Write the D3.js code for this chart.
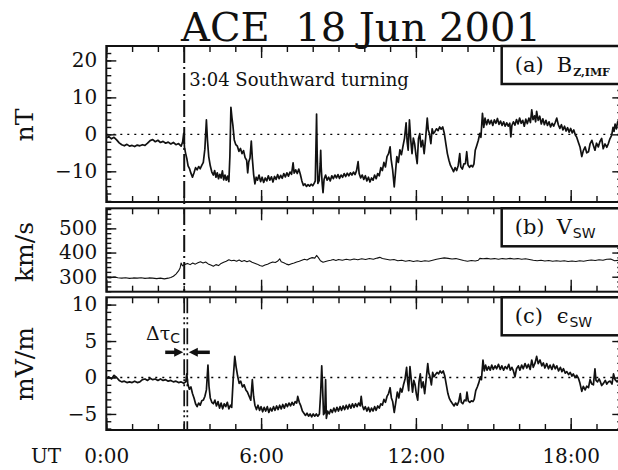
<!DOCTYPE html>
<html>
<head>
<meta charset="utf-8">
<script src="https://cdnjs.cloudflare.com/ajax/libs/d3/7.8.5/d3.min.js"></script>
<style>
body { margin: 0; background: #fff; }
svg { display: block; }
</style>
</head>
<body>
<div id="chart"></div>
<script>
// hours UT on 18 Jun 2001
var hourTicks = [0, 6, 12, 18];
var hourLabels = ["0:00", "6:00", "12:00", "18:00"];
var bzTicks = [-10, 0, 10, 20];
var vTicks = [300, 400, 500];
var epsTicks = [-5, 0, 5, 10];
var turningTime = 3.02;   // dash-dot line, "3:04"
var delayedTime = 3.14;   // second line in panel c

// (a) Bz IMF, nT  [hour, value]
var bz = [[0,-1.0],[0.1,-0.6],[0.2,-1.2],[0.3,-0.8],[0.4,-1.5],[0.5,-2.3],[0.6,-2.8],[0.7,-3.1],[0.8,-2.7],[0.9,-3.2],
  [1.0,-3.0],[1.1,-3.3],[1.2,-2.9],[1.3,-3.1],[1.4,-2.8],[1.5,-3.0],[1.6,-2.4],[1.7,-1.7],[1.8,-1.4],[1.9,-2.0],
  [2.0,-1.6],[2.1,-2.2],[2.2,-1.9],[2.3,-2.4],[2.4,-2.1],[2.5,-2.6],[2.6,-2.2],[2.7,-2.8],[2.8,-2.5],[2.9,-3.2],
  [2.96,-2.0],[3.0,0.3],[3.03,-3.5],[3.07,-5.0],[3.12,-6.5],[3.17,-8.5],[3.22,-9.2],[3.28,-10.5],[3.34,-11.6],[3.4,-10.4],
  [3.46,-9.0],[3.52,-9.6],[3.58,-8.7],[3.64,-9.3],[3.7,-8.4],[3.76,-7.6],[3.82,-4.0],[3.88,3.9],[3.92,-1.5],[3.97,-6.0],
  [4.03,-8.5],[4.09,-10.2],[4.15,-11.0],[4.2,-9.8],[4.25,-11.6],[4.3,-10.4],[4.35,-12.0],[4.4,-10.8],[4.45,-11.8],[4.5,-9.9],
  [4.55,-12.3],[4.6,-11.0],[4.65,-12.4],[4.7,-11.3],[4.75,-12.8],[4.79,-6.0],[4.83,7.3],[4.87,4.5],[4.91,2.2],[4.96,-1.5],
  [5.02,-2.8],[5.08,-3.2],[5.14,-4.6],[5.2,-3.8],[5.26,-5.2],[5.32,-4.4],[5.38,-6.3],[5.44,-7.0],[5.48,-10.4],[5.52,-7.5],
  [5.57,-6.4],[5.62,-1.8],[5.66,-6.5],[5.71,-10.8],[5.76,-13.4],[5.81,-11.6],[5.86,-12.4],[5.92,-11.0],[5.98,-12.8],[6.04,-11.6],
  [6.1,-13.0],[6.16,-11.8],[6.22,-12.6],[6.28,-11.2],[6.34,-12.4],[6.4,-11.5],[6.46,-12.9],[6.52,-11.4],[6.58,-12.2],[6.64,-10.9],
  [6.7,-12.0],[6.76,-11.1],[6.82,-11.9],[6.88,-10.6],[6.94,-11.5],[7.0,-10.4],[7.06,-11.3],[7.12,-10.2],[7.18,-10.8],[7.24,-7.7],
  [7.28,-10.5],[7.34,-9.6],[7.4,-10.6],[7.46,-9.4],[7.52,-10.8],[7.58,-12.6],[7.64,-13.8],[7.7,-13.4],[7.76,-14.1],[7.82,-13.6],
  [7.88,-14.0],[7.94,-13.5],[8.0,-13.9],[8.06,-13.2],[8.1,-12.6],[8.13,-2.0],[8.15,5.5],[8.17,-4.0],[8.2,-13.3],[8.25,-12.5],
  [8.29,-8.0],[8.31,-4.3],[8.33,-9.0],[8.37,-13.5],[8.4,-15.8],[8.44,-12.2],[8.5,-11.0],[8.56,-12.4],[8.62,-11.6],[8.68,-12.6],
  [8.74,-11.2],[8.8,-12.0],[8.86,-11.0],[8.92,-11.8],[8.98,-10.9],[9.04,-11.9],[9.1,-11.0],[9.16,-11.6],[9.22,-10.6],[9.28,-11.4],
  [9.34,-10.5],[9.4,-11.2],[9.46,-10.4],[9.52,-11.0],[9.58,-10.2],[9.64,-10.9],[9.7,-9.8],[9.76,-7.4],[9.8,-10.6],[9.86,-11.8],
  [9.92,-11.0],[9.98,-12.2],[10.04,-11.2],[10.1,-12.6],[10.16,-11.6],[10.22,-12.9],[10.28,-11.8],[10.34,-12.4],[10.4,-11.0],[10.46,-12.0],
  [10.52,-10.6],[10.58,-11.2],[10.64,-9.0],[10.7,-9.8],[10.76,-7.6],[10.82,-8.8],[10.88,-6.0],[10.94,-5.2],[11.0,-3.4],[11.04,-6.8],
  [11.1,-9.7],[11.16,-14.2],[11.2,-11.0],[11.26,-6.0],[11.32,-7.6],[11.38,-4.2],[11.44,-5.5],[11.5,-3.2],[11.56,-1.0],[11.62,3.1],
  [11.66,-2.0],[11.7,-4.3],[11.75,3.9],[11.8,-1.5],[11.85,-5.2],[11.9,-1.0],[11.95,-2.5],[12.0,-5.5],[12.05,-7.9],[12.1,-1.2],
  [12.15,0.2],[12.2,-3.4],[12.26,-1.6],[12.32,-5.2],[12.38,-0.8],[12.44,4.4],[12.48,1.2],[12.52,0.3],[12.58,-2.5],[12.63,1.5],
  [12.68,0.2],[12.74,0.8],[12.8,1.5],[12.86,1.0],[12.92,2.0],[12.98,1.4],[13.04,2.0],[13.1,0.3],[13.16,-2.5],[13.22,-5.2],
  [13.28,-7.0],[13.34,-8.4],[13.4,-9.2],[13.46,-10.1],[13.52,-9.0],[13.58,-9.8],[13.64,-8.4],[13.7,-5.2],[13.74,-8.8],[13.8,-9.4],
  [13.86,-8.0],[13.92,-7.9],[13.97,-4.7],[14.02,-8.3],[14.08,-8.9],[14.14,-8.4],[14.2,-8.8],[14.25,-8.0],[14.3,-4.3],[14.36,-3.0],
  [14.42,-1.6],[14.48,0.3],[14.52,-0.8],[14.58,5.7],[14.63,1.9],[14.68,4.4],[14.74,2.6],[14.8,4.0],[14.86,2.8],[14.92,3.8],
  [14.98,2.4],[15.04,3.9],[15.1,3.0],[15.16,4.3],[15.22,2.7],[15.28,3.6],[15.34,2.4],[15.4,3.4],[15.46,2.2],[15.52,3.1],
  [15.58,2.2],[15.64,3.0],[15.68,-0.7],[15.72,2.4],[15.78,3.4],[15.84,2.5],[15.9,4.0],[15.96,2.8],[16.02,4.4],[16.08,3.0],
  [16.14,3.8],[16.2,2.2],[16.26,4.1],[16.32,2.9],[16.38,4.4],[16.44,3.2],[16.49,6.6],[16.54,4.0],[16.6,5.0],[16.64,3.4],
  [16.68,6.2],[16.74,3.8],[16.8,4.9],[16.86,2.8],[16.92,4.2],[16.98,2.6],[17.04,3.8],[17.1,2.4],[17.16,3.4],[17.22,2.0],
  [17.28,3.0],[17.34,2.2],[17.4,3.2],[17.46,4.4],[17.52,2.6],[17.58,1.6],[17.64,2.6],[17.7,1.2],[17.76,2.2],[17.82,0.9],
  [17.88,1.8],[17.94,0.6],[18.0,1.6],[18.06,0.4],[18.12,1.2],[18.18,-0.2],[18.23,-0.7],[18.3,-2.2],[18.36,-3.4],[18.43,-6.0],
  [18.49,-4.4],[18.56,-3.4],[18.62,-5.0],[18.69,-4.7],[18.75,-2.6],[18.82,-1.6],[18.88,-3.0],[18.94,-4.3],[19.0,-2.4],[19.07,-3.4],
  [19.13,-2.0],[19.2,-1.1],[19.26,-3.9],[19.33,-2.6],[19.4,-3.5],[19.46,-2.5],[19.52,-1.2],[19.59,-0.2],[19.64,1.9],[19.68,0.8],
  [19.72,2.8],[19.77,1.5],[19.82,3.4],[19.88,2.6]];

// (b) solar wind speed, km/s
var vsw = [[0,297],[0.15,295],[0.3,299],[0.45,296],[0.6,294],[0.75,296],[0.9,293],[1.05,295],[1.2,294],[1.35,296],
  [1.5,293],[1.65,295],[1.8,294],[1.95,292],[2.1,294],[2.25,291],[2.4,294],[2.5,297],[2.6,302],[2.7,311],
  [2.8,324],[2.86,336],[2.9,357],[2.95,345],[3.05,351],[3.15,355],[3.25,350],[3.35,357],[3.45,352],[3.55,358],
  [3.65,362],[3.75,357],[3.85,361],[3.95,353],[4.05,348],[4.15,343],[4.25,350],[4.35,346],[4.45,355],[4.55,360],
  [4.65,364],[4.75,370],[4.85,366],[4.95,368],[5.05,364],[5.15,369],[5.25,363],[5.35,367],[5.45,362],[5.55,366],
  [5.65,360],[5.75,356],[5.85,352],[5.95,346],[6.05,343],[6.15,348],[6.25,352],[6.35,357],[6.45,361],[6.55,359],
  [6.65,365],[6.72,374],[6.78,362],[6.88,358],[6.98,352],[7.08,349],[7.18,354],[7.28,357],[7.38,361],[7.48,364],
  [7.58,368],[7.68,372],[7.78,369],[7.88,375],[7.98,379],[8.08,377],[8.15,388],[8.22,379],[8.3,366],[8.4,360],
  [8.5,363],[8.6,366],[8.7,368],[8.8,371],[8.9,367],[9.0,371],[9.15,368],[9.3,372],[9.45,369],[9.6,373],
  [9.75,370],[9.9,374],[10.05,371],[10.2,375],[10.35,372],[10.5,377],[10.6,380],[10.7,375],[10.85,372],[11.0,369],
  [11.15,371],[11.3,366],[11.45,368],[11.6,364],[11.75,367],[11.9,363],[12.05,366],[12.2,363],[12.35,366],[12.5,364],
  [12.65,368],[12.8,372],[12.95,375],[13.1,378],[13.25,376],[13.4,373],[13.55,375],[13.7,371],[13.85,367],[14.0,364],
  [14.15,367],[14.3,365],[14.42,368],[14.48,376],[14.6,374],[14.75,376],[14.9,373],[15.05,375],[15.2,372],[15.35,375],
  [15.5,373],[15.65,376],[15.8,373],[15.95,375],[16.1,372],[16.25,374],[16.4,371],[16.55,368],[16.7,366],[16.85,368],
  [17.0,365],[17.15,367],[17.3,364],[17.45,366],[17.6,364],[17.75,366],[17.9,363],[18.05,365],[18.2,363],[18.35,366],
  [18.5,364],[18.65,367],[18.8,369],[18.95,367],[19.1,370],[19.25,368],[19.4,372],[19.55,373],[19.7,366],[19.85,368]];

// (c) solar wind electric field, mV/m
var eps = [[0,-0.1],[0.1,0.1],[0.2,-0.2],[0.3,0.3],[0.4,0.0],[0.5,-0.4],[0.6,-0.6],[0.7,-0.5],[0.8,-0.7],[0.9,-0.6],
  [1.0,-0.7],[1.1,-0.5],[1.2,-0.7],[1.3,-0.6],[1.4,-0.3],[1.5,-0.2],[1.6,-0.4],[1.7,-0.1],[1.8,-0.3],[1.9,-0.2],
  [2.0,-0.4],[2.1,-0.2],[2.2,-0.4],[2.3,-0.3],[2.4,-0.5],[2.5,-0.4],[2.6,-0.6],[2.7,-0.5],[2.8,-0.7],[2.9,-0.6],
  [3.0,-0.8],[3.08,-0.6],[3.12,0.5],[3.16,-0.9],[3.22,-1.6],[3.28,-1.3],[3.34,-2.2],[3.4,-2.8],[3.46,-3.6],[3.52,-4.0],
  [3.58,-3.5],[3.64,-3.8],[3.7,-3.2],[3.76,-3.1],[3.82,-2.6],[3.88,-1.7],[3.94,1.7],[3.98,-1.2],[4.03,-2.8],[4.09,-3.4],
  [4.15,-3.6],[4.21,-3.1],[4.27,-3.9],[4.33,-3.3],[4.39,-4.2],[4.45,-3.5],[4.51,-4.3],[4.57,-3.6],[4.63,-4.0],[4.69,-3.4],
  [4.75,-4.3],[4.81,-3.8],[4.86,-4.1],[4.92,-0.1],[4.98,2.9],[5.03,1.5],[5.09,0.2],[5.15,-0.8],[5.21,-0.5],[5.28,-1.3],
  [5.34,-1.0],[5.41,-1.7],[5.47,-2.0],[5.54,-2.6],[5.6,-3.1],[5.66,-0.3],[5.71,-2.6],[5.76,-3.8],[5.82,-4.4],[5.88,-3.8],
  [5.94,-4.5],[6.0,-4.0],[6.06,-4.7],[6.12,-4.1],[6.18,-4.6],[6.24,-4.0],[6.3,-4.8],[6.36,-4.2],[6.42,-4.6],[6.48,-4.0],
  [6.54,-4.5],[6.6,-3.9],[6.66,-4.4],[6.72,-3.8],[6.78,-4.3],[6.84,-3.7],[6.9,-4.2],[6.96,-3.6],[7.02,-4.0],[7.08,-3.5],
  [7.14,-3.9],[7.2,-3.4],[7.26,-3.8],[7.32,-3.3],[7.38,-3.5],[7.42,-2.6],[7.48,-3.4],[7.54,-3.9],[7.6,-4.6],[7.66,-4.9],
  [7.72,-5.2],[7.78,-4.9],[7.84,-5.3],[7.9,-5.0],[7.96,-5.4],[8.02,-5.0],[8.08,-5.3],[8.14,-5.0],[8.2,-5.3],[8.26,-5.0],
  [8.31,-2.0],[8.35,1.6],[8.38,-1.0],[8.42,-5.1],[8.47,-4.8],[8.5,-0.3],[8.53,-5.6],[8.58,-4.6],[8.64,-5.0],[8.7,-4.4],
  [8.76,-4.8],[8.82,-4.2],[8.88,-4.7],[8.94,-4.1],[9.0,-4.6],[9.06,-4.0],[9.12,-4.5],[9.18,-3.9],[9.24,-4.4],[9.3,-3.8],
  [9.36,-4.3],[9.42,-3.7],[9.48,-4.2],[9.54,-3.6],[9.6,-4.1],[9.66,-3.6],[9.72,-4.0],[9.78,-3.5],[9.84,-3.9],[9.88,-2.6],
  [9.92,-3.8],[9.98,-4.4],[10.04,-4.0],[10.1,-4.6],[10.16,-4.1],[10.22,-4.7],[10.28,-4.2],[10.34,-4.6],[10.4,-4.0],[10.46,-4.5],
  [10.52,-3.9],[10.58,-4.2],[10.64,-3.6],[10.7,-3.8],[10.76,-3.0],[10.82,-3.4],[10.88,-2.6],[10.94,-2.2],[11.0,-1.4],[11.05,-2.8],
  [11.1,-3.3],[11.16,-4.8],[11.22,-3.4],[11.28,-2.0],[11.34,-2.8],[11.4,-1.5],[11.46,-2.0],[11.52,-1.0],[11.58,-0.2],[11.64,1.4],
  [11.68,-0.6],[11.72,-1.8],[11.77,1.5],[11.82,-0.3],[11.87,-2.0],[11.92,-0.4],[11.97,-1.0],[12.02,-2.3],[12.07,-3.1],[12.12,-0.6],
  [12.17,0.5],[12.22,-1.4],[12.28,-0.6],[12.34,-2.2],[12.4,-0.2],[12.46,1.9],[12.5,0.6],[12.54,0.2],[12.6,-1.0],[12.65,0.7],
  [12.7,0.1],[12.76,0.4],[12.82,0.7],[12.88,0.5],[12.94,0.9],[13.0,0.6],[13.06,0.9],[13.12,0.2],[13.18,-1.0],[13.24,-2.2],
  [13.3,-2.9],[13.36,-3.3],[13.42,-3.6],[13.48,-3.9],[13.54,-3.5],[13.6,-3.8],[13.66,-3.3],[13.72,-2.2],[13.76,-3.4],[13.82,-3.6],
  [13.88,-3.1],[13.94,-3.2],[13.98,-2.0],[14.03,-3.2],[14.09,-3.4],[14.15,-3.2],[14.21,-3.3],[14.26,-3.0],[14.32,-1.8],[14.38,-1.3],
  [14.44,-0.7],[14.5,0.1],[14.54,-0.3],[14.6,2.4],[14.65,0.9],[14.7,1.7],[14.76,1.0],[14.82,1.5],[14.88,1.0],[14.94,1.7],
  [15.0,1.1],[15.07,1.6],[15.13,1.2],[15.2,1.8],[15.27,1.1],[15.33,1.6],[15.4,1.0],[15.46,1.5],[15.53,1.2],[15.6,1.8],
  [15.66,1.0],[15.72,1.4],[15.78,0.9],[15.84,0.1],[15.9,1.2],[15.97,1.6],[16.03,1.0],[16.1,1.7],[16.16,1.2],[16.23,1.9],
  [16.3,1.3],[16.36,1.8],[16.43,1.1],[16.49,2.4],[16.55,1.4],[16.62,2.0],[16.68,2.9],[16.74,1.9],[16.81,2.4],[16.88,1.6],
  [16.94,2.0],[17.0,1.3],[17.07,1.9],[17.14,1.2],[17.2,1.7],[17.27,1.1],[17.33,1.8],[17.4,1.2],[17.46,1.6],[17.53,0.9],
  [17.6,1.4],[17.66,0.8],[17.72,1.2],[17.79,0.6],[17.85,0.8],[17.92,0.4],[17.98,0.7],[18.05,0.2],[18.1,0.5],[18.17,0.0],
  [18.23,0.3],[18.3,-0.1],[18.36,-0.8],[18.43,-1.9],[18.49,-1.2],[18.56,-1.7],[18.62,-1.2],[18.69,-1.4],[18.75,-0.3],[18.82,-0.9],
  [18.88,-1.0],[18.94,1.2],[18.98,-0.4],[19.04,-0.6],[19.1,-0.2],[19.14,-0.5],[19.2,-1.1],[19.27,-0.8],[19.34,-0.4],[19.4,-0.9],
  [19.46,-0.6],[19.53,-0.5],[19.6,-0.9],[19.66,0.5],[19.72,-0.3],[19.8,-0.6],[19.88,-0.2]];

var width = 618, height = 470;
var font = "DejaVu Serif";

var svg = d3.select("#chart").append("svg")
    .attr("width", width)
    .attr("height", height)
    .style("font-family", font);

var x = d3.scaleLinear().domain([0, 20]).range([106.3, 622.3]);

var panels = [
  {data: bz, top: 46, bottom: 202, domain: [-18.3, 23.9], ticks: bzTicks, minor: 2,
   unit: "nT", unitY: 125, zero: true, lw: 1.7, tag: "(a)", sym: "B", sub: "Z,IMF"},
  {data: vsw, top: 208.3, bottom: 291.7, domain: [238, 583], ticks: vTicks, minor: 20,
   unit: "km/s", unitY: 252, zero: false, lw: 1.1, tag: "(b)", sym: "V", sub: "SW"},
  {data: eps, top: 297.3, bottom: 430, domain: [-7.2, 11.0], ticks: epsTicks, minor: 1,
   unit: "mV/m", unitY: 364, zero: true, lw: 1.7, tag: "(c)", sym: "\u03f5", sub: "SW"}
];

panels.forEach(function(p, i) {
  var y = d3.scaleLinear().domain(p.domain).range([p.bottom, p.top]);
  p.y = y;
  var g = svg.append("g");

  if (p.zero) {
    g.append("line")
        .attr("x1", x(0)).attr("x2", x(20))
        .attr("y1", y(0)).attr("y2", y(0))
        .attr("stroke", "#000")
        .attr("stroke-width", 1.3)
        .attr("stroke-dasharray", "2,5");
  }

  var line = d3.line()
      .x(function(d) { return x(d[0]); })
      .y(function(d) { return y(d[1]); });

  g.append("path")
      .datum(p.data)
      .attr("d", line)
      .attr("fill", "none")
      .attr("stroke", "#111")
      .attr("stroke-width", p.lw)
      .attr("stroke-linejoin", "round");

  // y ticks, both sides, inward
  var minorVals = d3.range(Math.ceil(p.domain[0] / p.minor) * p.minor, p.domain[1], p.minor);
  [[d3.axisLeft, x(0)], [d3.axisRight, x(20)]].forEach(function(a) {
    g.append("g").attr("transform", "translate(" + a[1] + ",0)")
        .call(a[0](y).tickValues(minorVals).tickSize(-5).tickFormat(""))
        .call(function(s) { s.select(".domain").remove(); });
    g.append("g").attr("transform", "translate(" + a[1] + ",0)")
        .call(a[0](y).tickValues(p.ticks).tickSize(-10).tickFormat(a[0] === d3.axisLeft ? null : "").tickPadding(9))
        .call(function(s) {
          s.select(".domain").remove();
          s.selectAll("text").attr("font-family", font).attr("font-size", 20).attr("fill", "#111");
        });
  });

  // x ticks top and bottom, inward
  var hours = d3.range(0, 21);
  [[d3.axisTop, p.top], [d3.axisBottom, p.bottom]].forEach(function(a) {
    g.append("g").attr("transform", "translate(0," + a[1] + ")")
        .call(a[0](x).tickValues(hours).tickSize(-6).tickFormat(""))
        .call(function(s) { s.select(".domain").remove(); });
    g.append("g").attr("transform", "translate(0," + a[1] + ")")
        .call(a[0](x).tickValues(d3.range(0, 21, 6)).tickSize(-12).tickFormat(""))
        .call(function(s) { s.select(".domain").remove(); });
  });

  g.selectAll(".tick line").attr("stroke", "#111").attr("stroke-width", 1.4);

  // frame
  g.append("rect")
      .attr("x", x(0)).attr("y", p.top)
      .attr("width", x(20) - x(0)).attr("height", p.bottom - p.top)
      .attr("fill", "none")
      .attr("stroke", "#111")
      .attr("stroke-width", 2);

  // unit label
  g.append("text")
      .attr("transform", "translate(33," + p.unitY + ") rotate(-90)")
      .attr("text-anchor", "middle")
      .attr("font-size", 25)
      .attr("fill", "#111")
      .text(p.unit);
});

// event lines
var pa = panels[0], pb = panels[1], pc = panels[2];
svg.append("line")
    .attr("x1", x(turningTime)).attr("x2", x(turningTime))
    .attr("y1", pa.top).attr("y2", pb.bottom)
    .attr("stroke", "#111").attr("stroke-width", 2)
    .attr("stroke-dasharray", "17,4,2,4");

svg.selectAll("line.delay").data([turningTime, delayedTime]).enter()
  .append("line")
    .attr("class", "delay")
    .attr("x1", function(d) { return x(d); })
    .attr("x2", function(d) { return x(d); })
    .attr("y1", pc.top).attr("y2", pc.bottom)
    .attr("stroke", "#111").attr("stroke-width", 1.7)
    .attr("stroke-dasharray", "16,4,2,3,2,4");

// legend boxes
panels.forEach(function(p) {
  var bx = 501.7;
  svg.append("rect")
      .attr("x", bx).attr("y", p.top)
      .attr("width", x(20) - bx).attr("height", 38)
      .attr("fill", "#fff")
      .attr("stroke", "#111")
      .attr("stroke-width", 2.5);
  svg.append("text")
      .attr("x", bx + 13).attr("y", p.top + 26)
      .attr("font-size", 21).attr("fill", "#111")
      .text(p.tag);
  var sym = svg.append("text")
      .attr("x", bx + 55).attr("y", p.top + 26)
      .attr("font-size", 21).attr("fill", "#111")
      .text(p.sym);
  var symW = sym.node().getComputedTextLength();
  svg.append("text")
      .attr("x", bx + 56 + symW).attr("y", p.top + 30)
      .attr("font-size", p.sub === "SW" ? 14 : 11)
      .attr("font-weight", p.sub === "SW" ? "normal" : "bold")
      .attr("font-family", p.sub === "SW" ? "DejaVu Sans" : font)
      .attr("fill", "#111")
      .text(p.sub);
});

// annotations
svg.append("text")
    .attr("x", x(turningTime) + 5).attr("y", 86)
    .attr("font-size", 18).attr("fill", "#111")
    .text("3:04 Southward turning");

var dt = svg.append("text")
    .attr("x", 146).attr("y", 340)
    .attr("font-size", 19).attr("fill", "#111");
dt.append("tspan").text("\u0394\u03c4");
dt.append("tspan").attr("dy", 3).attr("font-size", 14).attr("font-family", "DejaVu Sans").text("C");

var ay = 352.3;
var tipL = x(turningTime) - 1, tipR = x(delayedTime) + 1.5;
svg.append("line").attr("x1", tipL - 18).attr("x2", tipL - 6).attr("y1", ay).attr("y2", ay)
    .attr("stroke", "#111").attr("stroke-width", 3.5);
svg.append("path")
    .attr("d", "M" + tipL + "," + ay + "L" + (tipL - 9) + "," + (ay - 4.5) + "L" + (tipL - 9) + "," + (ay + 4.5) + "Z")
    .attr("fill", "#111");
svg.append("line").attr("x1", tipR + 6).attr("x2", tipR + 21).attr("y1", ay).attr("y2", ay)
    .attr("stroke", "#111").attr("stroke-width", 3.5);
svg.append("path")
    .attr("d", "M" + tipR + "," + ay + "L" + (tipR + 9) + "," + (ay - 4.5) + "L" + (tipR + 9) + "," + (ay + 4.5) + "Z")
    .attr("fill", "#111");

// x tick labels, bottom panel only
svg.append("g")
    .attr("transform", "translate(0," + pc.bottom + ")")
    .call(d3.axisBottom(x).tickValues(hourTicks).tickSize(0).tickPadding(19)
      .tickFormat(function(d, i) { return hourLabels[i]; }))
    .call(function(s) {
      s.select(".domain").remove();
      s.selectAll("text").attr("font-family", font).attr("font-size", 20).attr("fill", "#111");
    });

svg.append("text")
    .attr("x", 46).attr("y", 463)
    .attr("text-anchor", "middle")
    .attr("font-size", 20).attr("fill", "#111")
    .text("UT");

// title
svg.append("text")
    .attr("x", 361).attr("y", 41)
    .attr("text-anchor", "middle")
    .attr("font-size", 40).attr("fill", "#111")
    .style("white-space", "pre")
    .text("ACE  18 Jun 2001");
</script>
</body>
</html>
